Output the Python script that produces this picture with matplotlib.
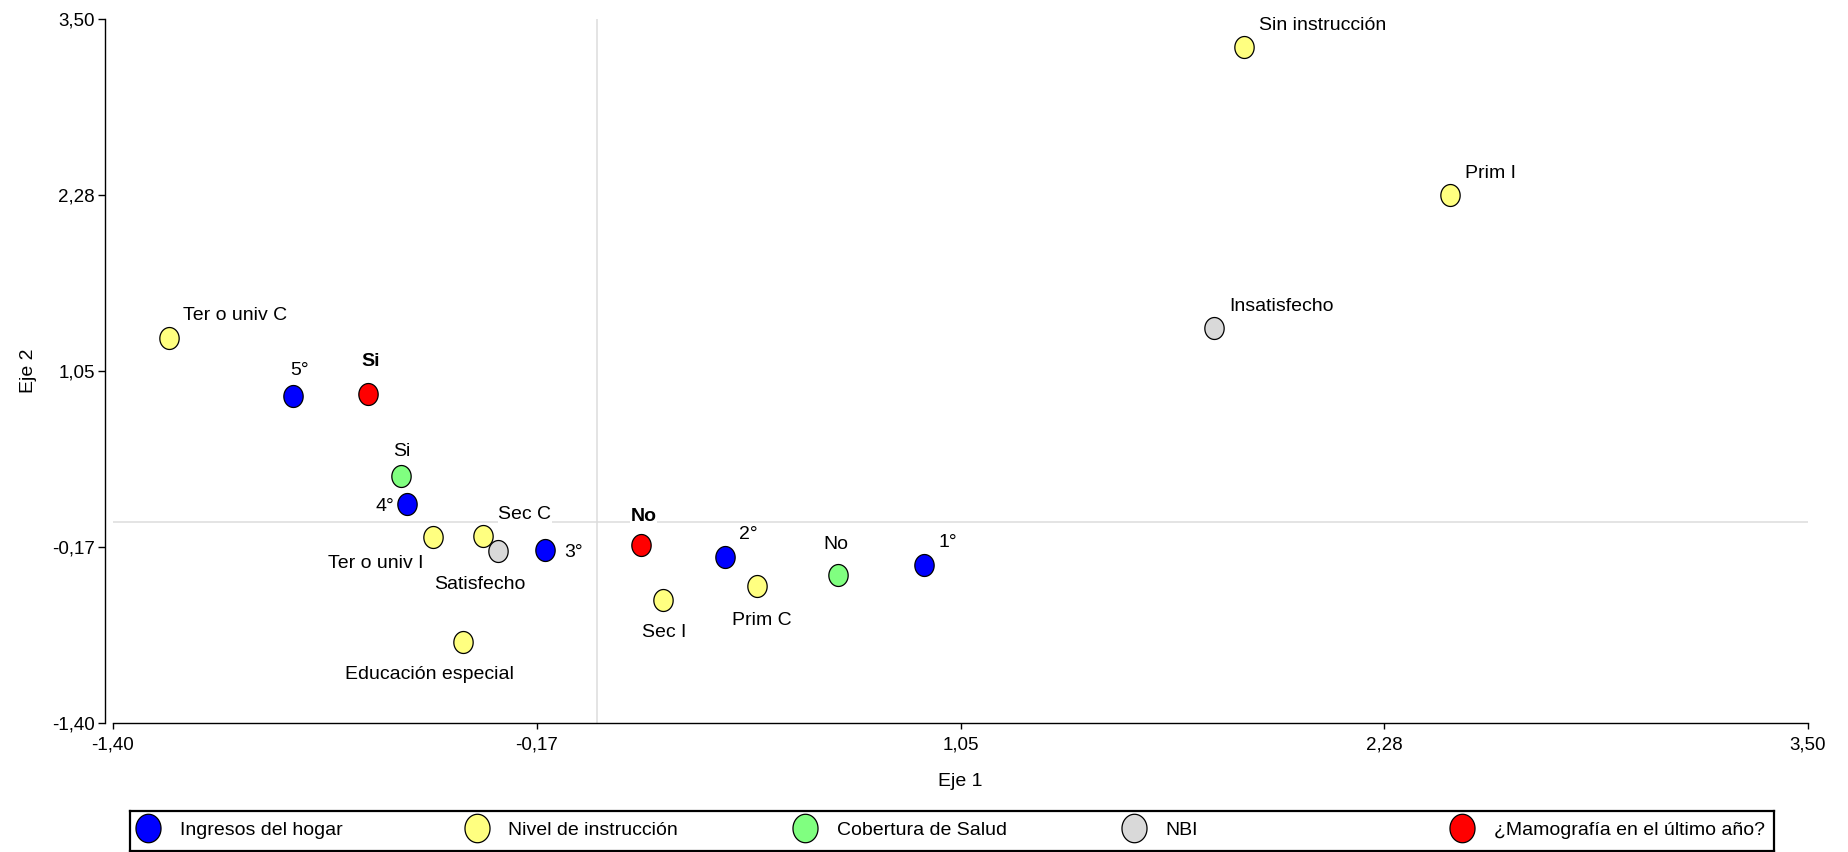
import matplotlib
matplotlib.use("Agg")
import matplotlib.pyplot as plt
import numpy as np
from matplotlib.path import Path

plt.rcParams["font.family"] = ["Liberation Sans", "DejaVu Sans"]

# ---- data ---------------------------------------------------------------
groups = ["Ingresos del hogar", "Nivel de instrucción", "Cobertura de Salud",
          "NBI", "¿Mamografía en el último año?"]
group_colors = ["#0000FF", "#FFFF80", "#80FF80", "#D9D9D9", "#FF0000"]

categories = ["1°", "2°", "3°", "4°", "5°",
              "Sin instrucción", "Prim I", "Prim C", "Sec I", "Sec C",
              "Ter o univ I", "Ter o univ C", "Educación especial",
              "Si", "No",
              "Satisfecho", "Insatisfecho",
              "Si", "No"]
category_group = [0, 0, 0, 0, 0,
                  1, 1, 1, 1, 1, 1, 1, 1,
                  2, 2,
                  3, 3,
                  4, 4]
eje1 = [0.945, 0.368, -0.151, -0.550, -0.879,
        1.869, 2.464, 0.463, 0.189, -0.329, -0.475, -1.239, -0.387,
        -0.568, 0.696,
        -0.288, 1.783,
        -0.662, 0.125]
eje2 = [-0.300, -0.243, -0.196, 0.122, 0.878,
        3.303, 2.275, -0.446, -0.544, -0.098, -0.107, 1.278, -0.834,
        0.321, -0.372,
        -0.203, 1.349,
        0.888, -0.163]

axis_ticks = np.linspace(-1.40, 3.50, 5)
tick_labels = ["-1,40", "-0,17", "1,05", "2,28", "3,50"]

# label placement per point: (dx px, dy px to baseline, horizontal alignment)
label_layout = [(24, 18, "center"), (24, 18, "center"), (19, -7, "left"),
                (-13, -7, "right"), (6, 21, "center"),
                (15, 17, "left"), (15, 17, "left"), (4, -39, "center"),
                (2, -37, "center"), (15, 17, "left"), (-9, -31, "right"),
                (14, 18, "left"), (-34, -37, "center"),
                (1, 20, "center"), (-2, 26, "center"),
                (-18, -38, "center"), (15, 17, "left"),
                (2, 28, "center"), (3, 24, "center")]

# ---- figure -------------------------------------------------------------
W, H = 1848, 852
fig = plt.figure(figsize=(W / 100, H / 100), dpi=100)
ax = fig.add_axes([113 / W, 1 - 723 / H, (1808 - 113) / W, (723 - 19) / H])

# slightly tall ellipse used as the point marker
t = np.linspace(0, 2 * np.pi, 80)
ellipse = Path(np.column_stack([0.88 * np.cos(t), np.sin(t)]), closed=True)

ax.axvline(0, color="#DCDCDC", lw=1.1, zorder=1)
ax.axhline(0, color="#DCDCDC", lw=1.1, zorder=1)

x = np.array(eje1)
y = np.array(eje2)
g = np.array(category_group)
for gi, col in enumerate(group_colors):
    m = g == gi
    ax.scatter(x[m], y[m], s=250, marker=ellipse, facecolor=col,
               edgecolor="black", linewidth=0.9, zorder=3)

for name, xi, yi, gi, (dx, dy, ha) in zip(categories, eje1, eje2,
                                         category_group, label_layout):
    ax.annotate(name, (xi, yi), xytext=(dx, dy), textcoords="offset pixels",
                ha=ha, va="baseline", fontsize=14,
                fontweight="bold" if gi == 4 else "normal",
                bbox=dict(facecolor="white", edgecolor="none", pad=0.5),
                zorder=4)

ax.set_xlim(-1.40, 3.50)
ax.set_ylim(-1.40, 3.50)
ax.set_xticks(axis_ticks)
ax.set_xticklabels(tick_labels)
ax.set_yticks(axis_ticks)
ax.set_yticklabels(tick_labels)

for side in ("top", "right"):
    ax.spines[side].set_visible(False)
ax.spines["left"].set_position(("outward", 6))
for side in ("left", "bottom"):
    ax.spines[side].set_linewidth(1.0)
ax.tick_params(axis="x", length=4.5, width=1.0, pad=5, labelsize=13.5)
ax.tick_params(axis="y", length=5, width=1.0, pad=2, labelsize=13.5)

ax.set_xlabel("Eje 1", fontsize=14)
ax.set_ylabel("Eje 2", fontsize=14)
ax.xaxis.label.set_va("center")
ax.yaxis.label.set_va("center")
ax.xaxis.set_label_coords(0.5, -(782 - 723) / 704)
ax.yaxis.set_label_coords((29 - 113) / 1695, 0.5)

# ---- legend band --------------------------------------------------------
lx0, lx1, ly0, ly1 = 130, 1774, 811, 851
lg = fig.add_axes([lx0 / W, 1 - ly1 / H, (lx1 - lx0) / W, (ly1 - ly0) / H])
lg.set_xlim(lx0, lx1)
lg.set_ylim(ly1, ly0)
lg.set_xticks([])
lg.set_yticks([])
for sp in lg.spines.values():
    sp.set_linewidth(1.6)
step = (1462 - 148) / (len(groups) - 1)
for i, (name, col) in enumerate(zip(groups, group_colors)):
    cx = 148 + i * step
    lg.scatter([cx], [828], s=420, marker=ellipse, facecolor=col,
               edgecolor="black", linewidth=0.9, clip_on=False)
    lg.text(cx + 32, 835, name, fontsize=14, ha="left", va="baseline")

fig.savefig("out.png", dpi=100)
